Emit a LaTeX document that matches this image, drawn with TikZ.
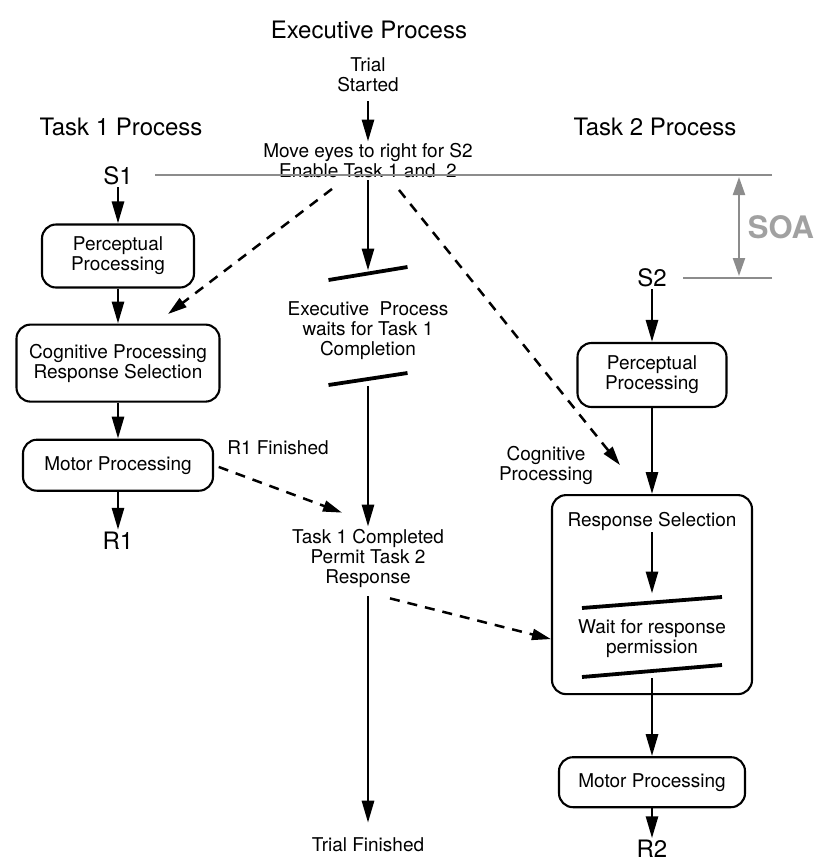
\documentclass[tikz,border=0pt]{standalone}
\usepackage{fontspec}
\setmainfont{TeX Gyre Heros}
\usetikzlibrary{arrows.meta,positioning}

\definecolor{soagray}{gray}{0.55}
\definecolor{soatext}{gray}{0.63}

\tikzset{
  txt/.style={align=center, inner sep=2pt, font=\fontsize{19}{20}\selectfont},
  head/.style={inner sep=2pt, font=\fontsize{24}{28}\selectfont},
  proc/.style={txt, draw, line width=2.1pt, rounded corners=14pt},
  flow/.style={line width=2.8pt, -{Triangle[length=22pt,width=12pt]}},
  enab/.style={line width=2.5pt, dash pattern=on 10pt off 8pt, -{Triangle[length=19pt,width=11pt]}},
  gate/.style={line width=3.8pt},
  grayline/.style={draw=soagray, line width=2.2pt},
}

\begin{document}
\begin{tikzpicture}[x=1pt, y=-1pt]
  \useasboundingbox (0,0) rectangle (814,863);

  % Headings
  \node[head] (exec) at (369,30) {Executive Process};
  \node[head] (task1) at (121,127) {Task 1 Process};
  \node[head] (task2) at (655,127) {Task 2 Process};

  % Executive process
  \node[txt] (start) at (368,75) {Trial\\Started};
  \node[txt] (enable) at (368,161) {Move eyes to right for S2\\Enable Task 1 and~ 2};
  \node[txt] (wait) at (368,331) {Executive~ Process\\waits for Task 1\\Completion};
  \node[txt] (done) at (368,558) {Task 1 Completed\\Permit Task 2\\Response};
  \node[txt] (fin) at (368,845) {Trial Finished};
  \draw[gate] (328.5,280) -- coordinate (g1) (407.5,267);
  \draw[gate] (328.5,385) -- coordinate (g2) (407.5,373);

  % Task 1
  \node[head] (s1) at (118,176) {S1};
  \node[proc, minimum width=152pt, minimum height=63pt] (perc1) at (118,256) {Perceptual\\Processing};
  \node[proc, below=35pt of perc1, minimum width=203pt, minimum height=77pt] (cog1) {Cognitive Processing\\Response Selection};
  \node[proc, below=36pt of cog1, minimum width=190pt, minimum height=51pt] (mot1) {Motor Processing};
  \node[head, below=38pt of mot1] (r1) {R1};
  \node[txt] (r1fin) at (278,448) {R1 Finished};

  % Task 2
  \node[head] (s2) at (652,278) {S2};
  \node[proc, minimum width=149pt, minimum height=64pt] (perc2) at (652,375) {Perceptual\\Processing};
  \node[proc, below=86pt of perc2, minimum width=200pt, minimum height=199pt] (resp) {};
  \node[txt] (rsel) at (652,521) {Response Selection};
  \node[txt] (perm) at (652,639) {Wait for response\\permission};
  \draw[gate] (582,608) -- coordinate (g3) (722,597);
  \draw[gate] (582,677) -- coordinate (g4) (722,665);
  \node[proc, below=61pt of resp, minimum width=186pt, minimum height=50pt] (mot2) {Motor Processing};
  \node[head, below=30pt of mot2] (r2) {R2};
  \node[txt] (cogl) at (546,465) {Cognitive\\Processing};

  % SOA
  \coordinate (t1) at (772,175);
  \coordinate (t2) at (772,278);
  \draw[grayline, shorten >=20pt] (t1) -- (t1 -| s1.east);
  \draw[grayline, shorten >=14pt] (t2) -- (t2 -| s2.east);
  \draw[grayline, {Triangle[length=18pt,width=12pt]}-{Triangle[length=18pt,width=12pt]}, shorten <=2pt, shorten >=2pt] ([xshift=-33pt]t1) -- ([xshift=-33pt]t2);
  \node[font=\bfseries\fontsize{31}{34}\selectfont, text=soatext] (soa) at (781,227) {SOA};

  % Flow
  \draw[flow, shorten <=7pt] (start) -- (enable);
  \draw[flow, shorten >=3pt] (enable) -- (g1);
  \draw[flow, shorten <=7pt] (g2) -- (done);
  \draw[flow, shorten <=7pt, shorten >=13pt] (done) -- (fin);
  \draw[flow] (s1) -- (perc1);
  \draw[flow] (perc1) -- (cog1);
  \draw[flow] (cog1) -- (mot1);
  \draw[flow] (mot1) -- (r1);
  \draw[flow] (s2) -- (perc2);
  \draw[flow] (perc2) -- (resp);
  \draw[flow, shorten >=9pt] (rsel) -- (g3);
  \draw[flow, shorten <=7pt] (g4) -- (mot2);
  \draw[flow] (mot2) -- (r2);

  % Enabling and permission signals
  \draw[enab] ([xshift=-36pt,yshift=-8.5pt]enable.south) -- ([xshift=50pt,yshift=9.5pt]cog1.north);
  \draw[enab] ([xshift=31pt,yshift=-9.5pt]enable.south) -- ([xshift=-32pt,yshift=29pt]resp.north);
  \draw[enab, shorten <=5pt] (mot1.east) -- ([xshift=-26pt,yshift=14pt]done.north);
  \draw[enab] ([xshift=22pt,yshift=-9pt]done.south) -- ([yshift=-44.5pt]resp.west);
\end{tikzpicture}
\end{document}
